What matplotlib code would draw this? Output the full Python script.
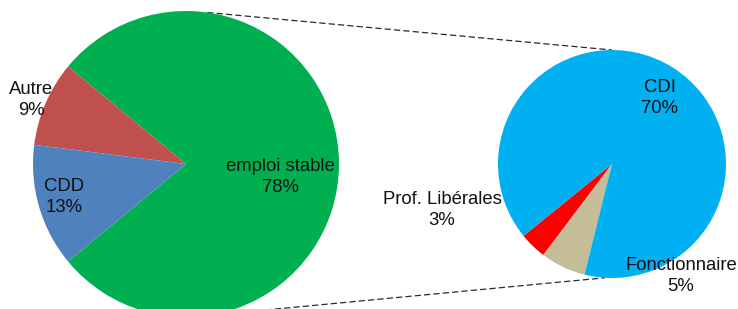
import matplotlib.pyplot as plt
import numpy as np

# main pie
main_labels = ["emploi stable", "Autre", "CDD"]
main_values = [78, 9, 13]
main_colors = ["#00B050", "#C0504D", "#4F81BD"]

# breakdown of "emploi stable"
sub_labels = ["Prof. Libérales", "Fonctionnaire", "CDI"]
sub_values = [3, 5, 70]
sub_colors = ["#FF0000", "#C4BD97", "#00B0F0"]


def main():
    plt.rcParams["font.family"] = ["Liberation Sans", "DejaVu Sans"]

    fig = plt.figure(figsize=(7.38, 3.09), dpi=100)
    ax = fig.add_axes([0, 0, 1, 1])

    left_c, left_r = (186, 145), 153
    right_c, right_r = (612, 145), 114

    # green slice centred on the right side
    start = -360 * main_values[0] / sum(main_values) / 2
    ax.pie(main_values, colors=main_colors, startangle=start,
           center=left_c, radius=left_r, wedgeprops=dict(linewidth=0))
    ax.pie(sub_values, colors=sub_colors, startangle=219.1,
           center=right_c, radius=right_r, wedgeprops=dict(linewidth=0))

    # connector lines between the two pies
    for a_left, a_right in [(82, 90), (-82, -93.5)]:
        x0 = left_c[0] + left_r * np.cos(np.radians(a_left))
        y0 = left_c[1] + left_r * np.sin(np.radians(a_left))
        x1 = right_c[0] + right_r * np.cos(np.radians(a_right))
        y1 = right_c[1] + right_r * np.sin(np.radians(a_right))
        ax.plot([x0, x1], [y0, y1], color="#2a2a2a", lw=0.9,
                linestyle=(0, (5, 2.5)), zorder=0)

    # data labels
    main_pos = [(280, 132), (31, 209), (64, 112)]
    sub_pos = [(442, 99), (681, 33), (660, 211)]
    for lab, val, (x, y) in zip(main_labels, main_values, main_pos):
        ax.text(x, y, f"{lab}\n{val}%", ha="center", va="center",
                fontsize=13.3, color="#111111", linespacing=1.3)
    for lab, val, (x, y) in zip(sub_labels, sub_values, sub_pos):
        ax.text(x, y, f"{lab}\n{val}%", ha="center", va="center",
                fontsize=13.3, color="#111111", linespacing=1.3)

    ax.set_xlim(0, 738)
    ax.set_ylim(0, 309)
    ax.set_aspect("equal")
    ax.axis("off")

    fig.savefig("out.png", dpi=100)
    plt.close(fig)


if __name__ == "__main__":
    main()
